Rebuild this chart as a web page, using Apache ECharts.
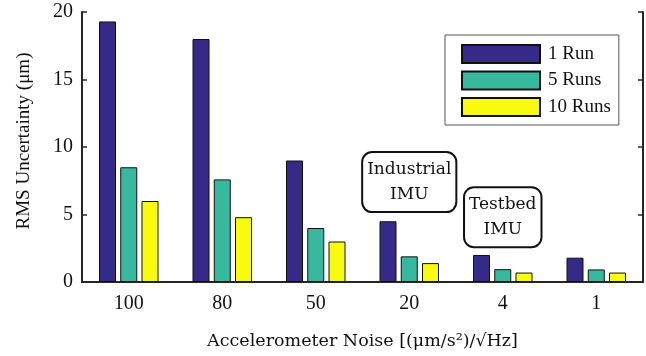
<!DOCTYPE html>
<html>
<head>
<meta charset="utf-8">
<style>html,body{margin:0;padding:0;background:#fff}#c{width:646px;height:356px}</style>
<script src="https://cdn.jsdelivr.net/npm/echarts@6/dist/echarts.min.js"></script>
</head>
<body>
<div id="c"></div>
<script>
const categories = ['100', '80', '50', '20', '4', '1'];
const run1 = [19.3, 18.0, 9.0, 4.5, 2.0, 1.8];
const run5 = [8.5, 7.6, 4.0, 1.9, 0.95, 0.93];
const run10 = [6.0, 4.8, 3.0, 1.4, 0.7, 0.7];
const seriesNames = ['1 Run', '5 Runs', '10 Runs'];
const yTicks = { min: 0, max: 20, interval: 5 };
const annotations = [
  { text: 'Industrial\nIMU', category: '20', value: 7.4 },
  { text: 'Testbed\nIMU', category: '4', value: 4.8 }
];

const serif = 'Liberation Serif';
const cambria = 'DejaVu Serif';
const axisColor = '#262626';
const colors = ['#352a87', '#38b99e', '#f9fb0e'];

const chart = echarts.init(document.getElementById('c'));
const mkSeries = (name, data, color, extra) => Object.assign({
  name, type: 'bar', data, barWidth: 17, barGap: '25%',
  itemStyle: { color, borderColor: '#111', borderWidth: 1 },
  emphasis: { disabled: true }
}, extra || {});

chart.setOption({
  animation: false,
  grid: { left: 82, top: 12, right: 3, bottom: 74 },
  legend: {
    orient: 'vertical', left: 445, top: 35,
    data: seriesNames,
    itemWidth: 78, itemHeight: 18, itemGap: 6.5,
    padding: [9, 8, 8, 16],
    backgroundColor: '#fff', borderColor: '#555', borderWidth: 1,
    icon: 'rect',
    textStyle: { fontFamily: serif, fontSize: 19, color: '#111', padding: [0, 0, 0, 3] },
    selectedMode: false
  },
  xAxis: [{
    type: 'category', data: categories, position: 'bottom',
    axisLine: { lineStyle: { color: axisColor, width: 2 } },
    axisTick: { inside: true, alignWithLabel: true, length: 5, lineStyle: { color: axisColor, width: 1.5 } },
    axisLabel: { fontFamily: serif, fontSize: 20, color: '#111', margin: 12 },
    name: 'Accelerometer Noise [(μm/s²)/√Hz]', nameLocation: 'middle', nameGap: 50,
    nameTextStyle: { fontFamily: cambria, fontSize: 17.5, color: '#111' }
  }, {
    type: 'category', data: categories, position: 'top',
    axisLine: { lineStyle: { color: axisColor, width: 2 } },
    axisTick: { inside: true, alignWithLabel: true, length: 5, lineStyle: { color: axisColor, width: 1.5 } },
    axisLabel: { show: false }
  }],
  yAxis: [{
    type: 'value', min: yTicks.min, max: yTicks.max, interval: yTicks.interval,
    axisLine: { show: true, lineStyle: { color: axisColor, width: 2 } },
    axisTick: { show: true, inside: true, length: 5, lineStyle: { color: axisColor, width: 1.5 } },
    splitLine: { show: false },
    axisLabel: { fontFamily: serif, fontSize: 20, color: '#111', margin: 9 },
    name: 'RMS Uncertainty (μm)', nameLocation: 'middle', nameGap: 48,
    nameTextStyle: { fontFamily: serif, fontSize: 19, color: '#111', padding: [0, 0, 0, 12] }
  }, {
    type: 'value', min: yTicks.min, max: yTicks.max, interval: yTicks.interval, position: 'right',
    axisLine: { show: true, lineStyle: { color: axisColor, width: 2 } },
    axisTick: { show: true, inside: true, length: 5, lineStyle: { color: axisColor, width: 1.5 } },
    splitLine: { show: false },
    axisLabel: { show: false }
  }],
  series: [
    mkSeries(seriesNames[0], run1, colors[0]),
    mkSeries(seriesNames[1], run5, colors[1], {
      markPoint: {
        symbol: 'rect', symbolSize: 0, silent: true,
        data: annotations.map(a => ({
          coord: [a.category, a.value],
          label: {
            show: true, position: 'inside', formatter: a.text,
            fontFamily: cambria, fontSize: 17, lineHeight: 25, color: '#111',
            backgroundColor: '#fff', borderColor: '#111', borderWidth: 2, borderRadius: 9,
            padding: [4, 4, 4, 4], align: 'center'
          }
        }))
      }
    }),
    mkSeries(seriesNames[2], run10, colors[2])
  ]
});
</script>
</body>
</html>
